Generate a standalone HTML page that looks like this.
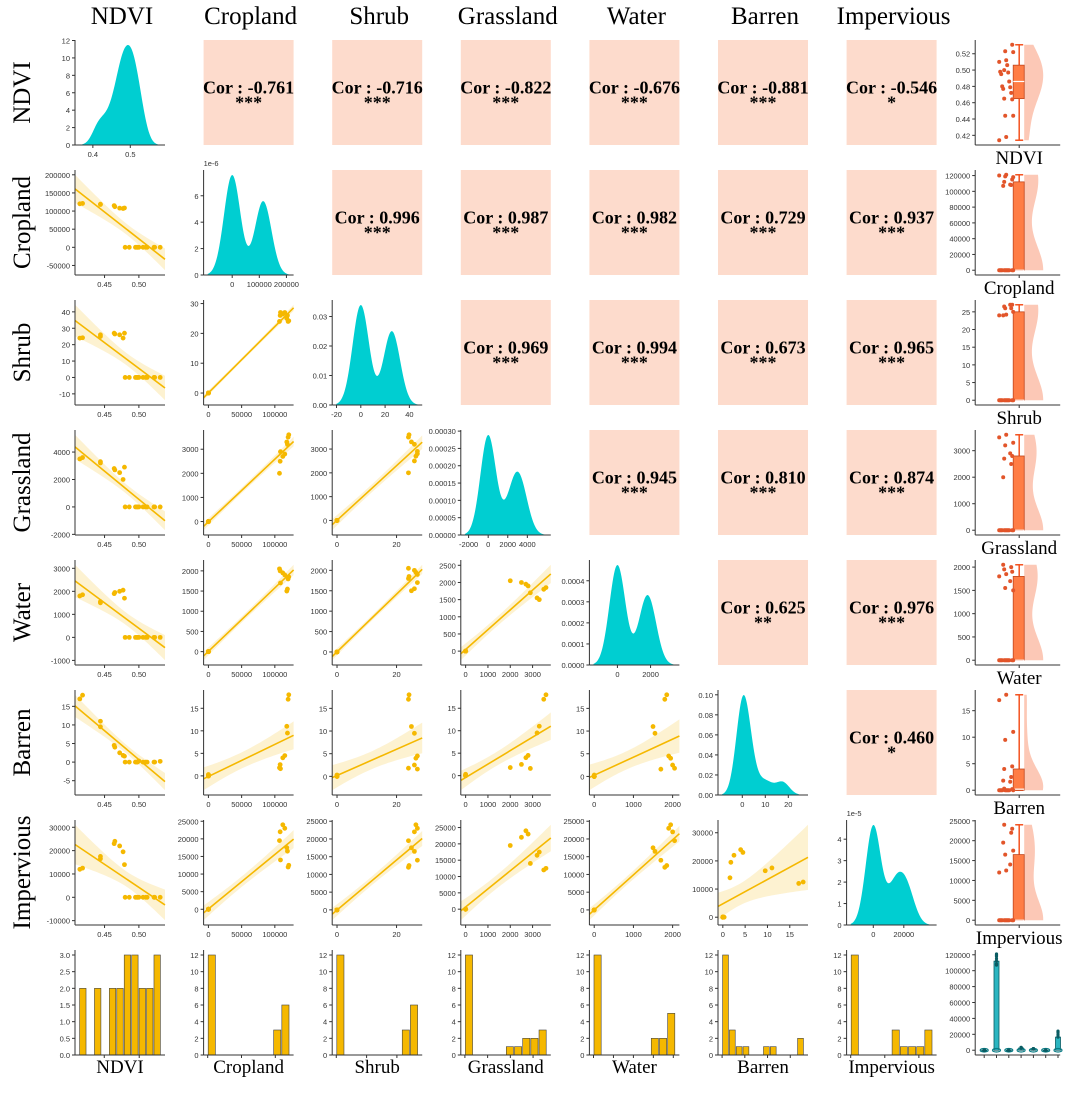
<!DOCTYPE html>
<html><head><meta charset="utf-8"><style>
html,body{margin:0;padding:0;background:#fff;}
svg{display:block;}
.tk{font-family:"Liberation Sans",sans-serif;font-size:7.5px;fill:#333;}
.big{font-family:"Liberation Serif",serif;font-size:25px;fill:#000;}
.lab{font-family:"Liberation Serif",serif;font-size:19px;fill:#000;}
.cor{font-family:"Liberation Serif",serif;font-size:18px;font-weight:bold;fill:#000;}
</style></head><body>
<svg id="chart" width="1065" height="1094" viewBox="0 0 1065 1094" xmlns="http://www.w3.org/2000/svg"></svg>
<script>
const vars=['NDVI','Cropland','Shrub','Grassland','Water','Barren','Impervious'];
const ndvi=[0.414,0.418,0.444,0.444,0.464,0.465,0.472,0.477,0.479,0.480,0.486,0.495,0.497,0.498,0.506,0.510,0.512,0.522,0.523,0.531,0.500];
const cropland=[120000,121000,118000,119000,115000,112000,108000,107000,108500,0,0,0,0,0,0,0,0,0,0,0,0];
const shrub=[24,24.2,25,26,27,26.5,26,24,27,0,0,0,0,0,0,0,0,0,0,0,0];
const grassland=[3500,3600,3300,3200,2800,2700,2500,2000,2900,0,0,0,0,0,0,0,0,0,0,0,0];
const water=[1800,1850,1500,1550,1900,1950,2000,2050,1700,0,0,0,0,0,0,0,0,0,0,0,0];
const barren=[17,18,11,9.5,4.5,4,2.5,1.8,1.6,0,0,0,0,0,0,0,0,0,0,0.2,0.3];
const impervious=[12000,12500,17500,16500,23000,24000,22000,19500,14000,0,0,0,0,0,0,0,0,0,0,0,0];
const corRow=[0,0,0,0,0,0,1,1,1,1,1,2,2,2,2,3,3,3,4,4,5];
const corCol=[1,2,3,4,5,6,2,3,4,5,6,3,4,5,6,4,5,6,5,6,6];
const corVal=['-0.761','-0.716','-0.822','-0.676','-0.881','-0.546','0.996','0.987','0.982','0.729','0.937','0.969','0.994','0.673','0.965','0.945','0.810','0.874','0.625','0.976','0.460'];
const corStars=['***','***','***','***','***','*','***','***','***','***','***','***','***','***','***','***','***','***','**','***','*'];
const data=[ndvi,cropland,shrub,grassland,water,barren,impervious];

const NS='http://www.w3.org/2000/svg';
const svg=document.getElementById('chart');
function el(tag,attrs,parent){const e=document.createElementNS(NS,tag);for(const k in attrs)e.setAttribute(k,attrs[k]);(parent||svg).appendChild(e);return e;}
function lin(d0,d1,r0,r1){return v=>r0+(v-d0)/(d1-d0)*(r1-r0);}
function niceStep(range,n){const raw=range/n;const p=Math.pow(10,Math.floor(Math.log10(raw)));const f=raw/p;let s=f<1.5?1:f<3?2:f<7?5:10;return s*p;}
function ticks(min,max,n){const s=niceStep(max-min,n);const out=[];for(let v=Math.ceil(min/s-1e-9)*s;v<=max+1e-9*s;v+=s)out.push(+v.toFixed(10));return {t:out,s:s};}
function fmt(v,s){const d=Math.max(0,-Math.floor(Math.log10(s)+1e-9));let r=v.toFixed(d);if(/^-0(\.0*)?$/.test(r))r=r.slice(1);return r;}
const colX=c=>75+128.6*c, rowY=r=>40+130*r, W=90, H=105;
const YEL='#f5b800';

function axes(g,x0,y0,w,h,xs,ys,xt,yt,scale){
  el('line',{x1:x0,y1:y0,x2:x0,y2:y0+h,stroke:'#333','stroke-width':1},g);
  el('line',{x1:x0,y1:y0+h,x2:x0+w,y2:y0+h,stroke:'#333','stroke-width':1},g);
  if(yt)yt.t.forEach(v=>{const y=ys(v);if(y<y0-1||y>y0+h+1)return;el('line',{x1:x0-3,y1:y,x2:x0,y2:y,stroke:'#333'},g);const t=el('text',{x:x0-5,y:y+3,'text-anchor':'end',class:'tk'},g);t.textContent=fmt(v/(scale||1),yt.s/(scale||1));});
  if(xt&&xs)xt.t.forEach(v=>{const x=xs(v);if(x<x0-1||x>x0+w+1)return;el('line',{x1:x,y1:y0+h,x2:x,y2:y0+h+3,stroke:'#333'},g);if(!xt.nolab){const t=el('text',{x:x,y:y0+h+12,'text-anchor':'middle',class:'tk'},g);t.textContent=fmt(v,xt.s);}});
}
function ext(a){let mn=Math.min(...a),mx=Math.max(...a);const p=(mx-mn)*0.06;return [mn-p,mx+p];}
function mean(a){return a.reduce((s,v)=>s+v,0)/a.length;}
function std(a){const m=mean(a);return Math.sqrt(a.reduce((s,v)=>s+(v-m)*(v-m),0)/(a.length-1));}

vars.forEach((v,i)=>{
  const t=el('text',{x:colX(i)+W/2+2,y:24,'text-anchor':'middle',class:'big'});t.textContent=v;
  
  const cy=rowY(i)+H/2;
  const r=el('text',{x:0,y:0,'text-anchor':'middle',class:'big',transform:`translate(30,${cy}) rotate(-90)`});r.textContent=v;
  
});

corRow.forEach((r,k)=>{
  const c=corCol[k];
  const g=el('g',{});
  
  
  el('rect',{x:colX(c),y:rowY(r),width:W,height:H,fill:'#fddbcc'},g);
  const t=el('text',{x:colX(c)+W/2,y:rowY(r)+H/2+1,'text-anchor':'middle',class:'cor'},g);t.textContent='Cor : '+corVal[k];
  const s=el('text',{x:colX(c)+W/2,y:rowY(r)+H/2+16,'text-anchor':'middle',class:'cor','font-size':'14'},g);s.textContent=corStars[k];
});

for(let r=1;r<7;r++)for(let c=0;c<r;c++){
  const xa=data[c],ya=data[r];
  const g=el('g',{});
  
  
  const x0=colX(c),y0=rowY(r);
  const [xmn,xmx]=ext(xa);
  const mx=mean(xa),my=mean(ya);let sxx=0,sxy=0;xa.forEach((x,i)=>{sxx+=(x-mx)**2;sxy+=(x-mx)*(ya[i]-my);});
  const b=sxy/sxx,a=my-b*mx;const n=xa.length;
  let sse=0;xa.forEach((x,i)=>{sse+=(ya[i]-a-b*x)**2;});const se=Math.sqrt(sse/(n-2));
  const band=x=>2.09*se*Math.sqrt(1/n+(x-mx)**2/sxx);
  const lo=Math.min(...ya,a+b*xmn-band(xmn),a+b*xmx-band(xmx)),hi=Math.max(...ya,a+b*xmn+band(xmn),a+b*xmx+band(xmx));
  const py=(hi-lo)*0.05;
  const xs=lin(xmn,xmx,x0,x0+W),ys=lin(lo-py,hi+py,y0+H,y0);
  const N=40;let up=[],dn=[];
  for(let i=0;i<=N;i++){const x=xmn+(xmx-xmn)*i/N;up.push(xs(x)+','+ys(a+b*x+band(x)));dn.unshift(xs(x)+','+ys(a+b*x-band(x)));}
  el('polygon',{points:up.concat(dn).join(' '),fill:YEL,'fill-opacity':0.18},g);
  el('line',{x1:xs(xmn),y1:ys(a+b*xmn),x2:xs(xmx),y2:ys(a+b*xmx),stroke:YEL,'stroke-width':1.6},g);
  xa.forEach((x,i)=>{el('circle',{cx:xs(x),cy:ys(ya[i]),r:2.4,fill:YEL},g);});
  axes(g,x0,y0,W,H,xs,ys,ticks(xmn,xmx,c==0?2:c==2?1.5:3),ticks(lo-py,hi+py,5));
}

for(let i=0;i<7;i++){
  const a=data[i];const g=el('g',{});
  
  
  const x0=colX(i),y0=rowY(i);const n=a.length;
  const bw=1.06*std(a)*Math.pow(n,-0.2)*0.9;
  const mn=Math.min(...a)-3*bw,mx=Math.max(...a)+3*bw;
  const pts=[];let ymax=0;
  for(let k=0;k<=120;k++){const x=mn+(mx-mn)*k/120;let d=0;a.forEach(v=>{d+=Math.exp(-0.5*((x-v)/bw)**2);});d/=n*bw*Math.sqrt(2*Math.PI);pts.push([x,d]);ymax=Math.max(ymax,d);}
  const pad=(mx-mn)*0.05;
  const xs=lin(mn-pad,mx+pad,x0,x0+W),ys=lin(0,ymax*1.05,y0+H,y0);
  el('path',{d:'M'+xs(mn)+','+ys(0)+pts.map(p=>'L'+xs(p[0])+','+ys(p[1])).join('')+'L'+xs(mx)+','+ys(0)+'Z',fill:'#00ced1'},g);
  const e=Math.floor(Math.log10(ymax));let scale=1;
  if(e<-4){scale=Math.pow(10,e);const t=el('text',{x:x0,y:y0-4,class:'tk'},g);t.textContent='1e'+e;}
  axes(g,x0,y0,W,H,xs,ys,ticks(mn,mx,i==0?2:3),ticks(0,ymax*1.05,5),scale);
}

for(let i=0;i<7;i++){
  const a=data[i];const g=el('g',{});
  
  
  const x0=colX(i),y0=rowY(7);
  const mn=Math.min(...a),mx=Math.max(...a);const nb=i==0?11:i==5?12:10;const bwid=(mx-mn)/nb;
  const cnt=new Array(nb).fill(0);a.forEach(v=>{cnt[Math.min(nb-1,Math.floor((v-mn)/bwid))]++;});
  const pad=(mx-mn)*0.05;const cmax=Math.max(...cnt);
  const xs=lin(mn-pad,mx+pad,x0,x0+W),ys=lin(0,cmax*1.05,y0+H,y0);
  cnt.forEach((k,j)=>{if(!k)return;el('rect',{x:xs(mn+j*bwid)+0.5,y:ys(k),width:xs(mn+bwid)-xs(mn)-1,height:ys(0)-ys(k),fill:YEL,stroke:'#444','stroke-width':0.6},g);});
  const yt=ticks(0,cmax*1.05,6);
  const xt=ticks(mn,mx,3);xt.nolab=true;
  axes(g,x0,y0,W,H,xs,ys,xt,yt);
  const t=el('text',{x:x0+W/2,y:y0+H+18,'text-anchor':'middle',class:'lab'},g);t.textContent=vars[i];
}

for(let i=0;i<7;i++){
  const a=data[i].slice().sort((p,q)=>p-q);const g=el('g',{});
  
  
  const x0=colX(7),y0=rowY(i),w=85;
  const mn=a[0],mx=a[a.length-1];const pad=(mx-mn)*0.05;
  const ys=lin(mn-pad,mx+pad,y0+H,y0);const cx=x0+44;
  const q=p=>{const idx=(a.length-1)*p,lo=Math.floor(idx),hi=Math.ceil(idx);return a[lo]+(a[hi]-a[lo])*(idx-lo);};
  const q1=q(0.25),q2=q(0.5),q3=q(0.75);
  const n=a.length,bw=1.06*std(a)*Math.pow(n,-0.2);const pts=[];let dm=0;
  for(let k=0;k<=60;k++){const y=mn+(mx-mn)*k/60;let d=0;a.forEach(v=>{d+=Math.exp(-0.5*((y-v)/bw)**2);});pts.push([y,d]);dm=Math.max(dm,d);}
  el('path',{d:'M'+(cx+5)+','+ys(mn)+pts.map(p=>'L'+(cx+5+p[1]/dm*19)+','+ys(p[0])).join('')+'L'+(cx+5)+','+ys(mx)+'Z',fill:'#fa9a7a','fill-opacity':0.55},g);
  el('line',{x1:cx,y1:ys(mn),x2:cx,y2:ys(mx),stroke:'#f4511e','stroke-width':1.5},g);
  el('line',{x1:cx-4,y1:ys(mx),x2:cx+4,y2:ys(mx),stroke:'#f4511e','stroke-width':1.5},g);
  el('line',{x1:cx-4,y1:ys(mn),x2:cx+4,y2:ys(mn),stroke:'#f4511e','stroke-width':1.5},g);
  el('rect',{x:cx-6,y:ys(q3),width:11,height:Math.max(0.5,ys(q1)-ys(q3)),fill:'#ff7d45',stroke:'#c0461e','stroke-width':0.8},g);
  el('line',{x1:cx-6,y1:ys(q2),x2:cx+5,y2:ys(q2),stroke:'#fff','stroke-width':1.2},g);
  data[i].forEach((v,k)=>{el('circle',{cx:cx-20+((k*7)%15),cy:ys(v),r:2,fill:'#e2552a'},g);});
  axes(g,x0,y0,w,H,null,ys,null,ticks(mn-pad,mx+pad,5));
  el('line',{x1:cx,y1:y0+H,x2:cx,y2:y0+H+3,stroke:'#333'},g);
  const t=el('text',{x:cx,y:y0+H+19,'text-anchor':'middle',class:'lab'},g);t.textContent=vars[i];
}

(function(){
  const g=el('g',{});
  
  
  const x0=colX(7),y0=rowY(7),w=85;
  const ys=lin(-6000,126000,y0+H,y0);
  axes(g,x0,y0,w,H,null,ys,null,ticks(0,126000,6));
  data.forEach((a0,i)=>{
    const a=a0.slice().sort((p,q)=>p-q);const cx=x0+9+i*12.3;
    const q=p=>{const idx=(a.length-1)*p,lo=Math.floor(idx),hi=Math.ceil(idx);return a[lo]+(a[hi]-a[lo])*(idx-lo);};
    el('line',{x1:cx,y1:y0+H,x2:cx,y2:y0+H+3,stroke:'#333'},g);
    el('line',{x1:cx,y1:ys(a[0]),x2:cx,y2:ys(a[a.length-1]),stroke:'#0b7c85','stroke-width':1.2},g);
    el('rect',{x:cx-2.5,y:ys(q(0.75)),width:5,height:Math.max(1,ys(q(0.25))-ys(q(0.75))),fill:'#2bb5c0',stroke:'#0b5c63','stroke-width':0.8},g);
    el('ellipse',{cx:cx,cy:ys(0),rx:4,ry:1.8,fill:'none',stroke:'#0b7c85','stroke-width':1.2},g);
    a0.forEach(v=>{if(v>a[a.length-1]*0.6)el('circle',{cx:cx,cy:ys(v),r:1.6,fill:'#0b5c63'},g);});
  });
})();
</script>
</body></html>
